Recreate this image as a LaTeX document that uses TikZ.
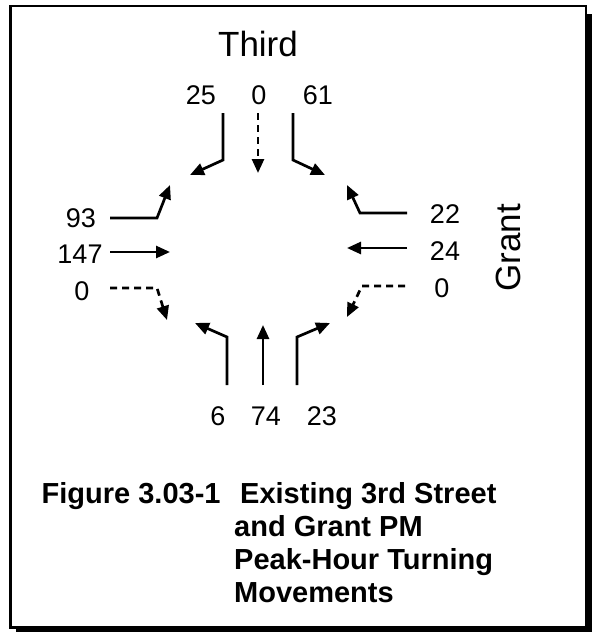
\documentclass[tikz,border=0pt]{standalone}
\usepackage{fontspec}
\setmainfont{Liberation Sans}
\usetikzlibrary{arrows.meta}

\begin{document}
\begin{tikzpicture}[x=1pt,y=-1pt,
  flow/.style={line width=2.7pt,-{Triangle[length=14pt,width=12pt]}},
  nilflow/.style={flow,dash pattern=on 7pt off 5pt},
  vol/.style={font=\fontsize{27}{32}\selectfont, inner sep=0pt, anchor=base},
  street/.style={font=\fontsize{35}{40}\selectfont, inner sep=0pt},
  capline/.style={font=\bfseries\fontsize{29}{33}\selectfont, inner sep=0pt, anchor=base west},
]
\useasboundingbox (0,0) rectangle (592,632);

% framed panel with a drop shadow
\fill[black] (16,14) rectangle (592,632);
\draw[line width=2.2pt, fill=white] (10.5,6) rectangle (586,627.5);

% street names
\node[street, anchor=base] (third) at (258,56) {Third};
\node[street, rotate=90, anchor=center] (grant) at (508,248) {Grant};

% volumes, north approach
\node[vol] (v25) at (201,104) {25};
\node[vol] (vN0) at (259,104) {0};
\node[vol] (v61) at (318,104) {61};
% west approach
\node[vol] (v93) at (81,227) {93};
\node[vol] (v147) at (80,263) {147};
\node[vol] (vW0) at (82,300) {0};
% east approach
\node[vol] (v22) at (445,223) {22};
\node[vol] (v24) at (445,260) {24};
\node[vol] (vE0) at (442,297) {0};
% south approach
\node[vol] (v6) at (218,425) {6};
\node[vol] (v74) at (266,425) {74};
\node[vol] (v23) at (322,425) {23};

% movement arrow end points
\coordinate (n25a) at (223,113);  \coordinate (n25b) at (223,160);  \coordinate (n25c) at (190,175);
\coordinate (n0a)  at (258,113);  \coordinate (n0c)  at (258,173);
\coordinate (n61a) at (293,113);  \coordinate (n61b) at (293,160);  \coordinate (n61c) at (325,175);

\coordinate (w93a)  at (110,218); \coordinate (w93b) at (157,218); \coordinate (w93c) at (170,185);
\coordinate (w147a) at (110,252); \coordinate (w147c) at (170,252);
\coordinate (w0a)   at (110,288); \coordinate (w0b)  at (157,288); \coordinate (w0c)  at (167,320);

\coordinate (e22a) at (407,213);  \coordinate (e22b) at (360,213);  \coordinate (e22c) at (347,185);
\coordinate (e24a) at (407,248);  \coordinate (e24c) at (347,248);
\coordinate (e0a)  at (405,286);  \coordinate (e0b)  at (362,286);  \coordinate (e0c)  at (347,317);

\coordinate (s6a)  at (227,385);  \coordinate (s6b)  at (227,337);  \coordinate (s6c)  at (195,323);
\coordinate (s74a) at (263,385);  \coordinate (s74c) at (263,325);
\coordinate (s23a) at (297,385);  \coordinate (s23b) at (297,337);  \coordinate (s23c) at (330,323);

% turning movements
\draw[flow] (n25a) -- (n25b) -- (n25c);
\draw[nilflow] (n0a) -- (n0c);
\draw[flow] (n61a) -- (n61b) -- (n61c);

\draw[flow] (w93a) -- (w93b) -- (w93c);
\draw[flow] (w147a) -- (w147c);
\draw[nilflow] (w0a) -- (w0b) -- (w0c);

\draw[flow] (e22a) -- (e22b) -- (e22c);
\draw[flow] (e24a) -- (e24c);
\draw[nilflow] (e0a) -- (e0b) -- (e0c);

\draw[flow] (s6a) -- (s6b) -- (s6c);
\draw[flow] (s74a) -- (s74c);
\draw[flow] (s23a) -- (s23b) -- (s23c);

% caption
\node[capline] (fignum) at (41.5,503) {Figure 3.03-1};
\node[capline] (cap1) at (240,503) {Existing 3rd Street};
\node[capline] (cap2) at (234,536) {and Grant PM};
\node[capline] (cap3) at (234,569) {Peak-Hour Turning};
\node[capline] (cap4) at (234,602) {Movements};
\end{tikzpicture}
\end{document}
